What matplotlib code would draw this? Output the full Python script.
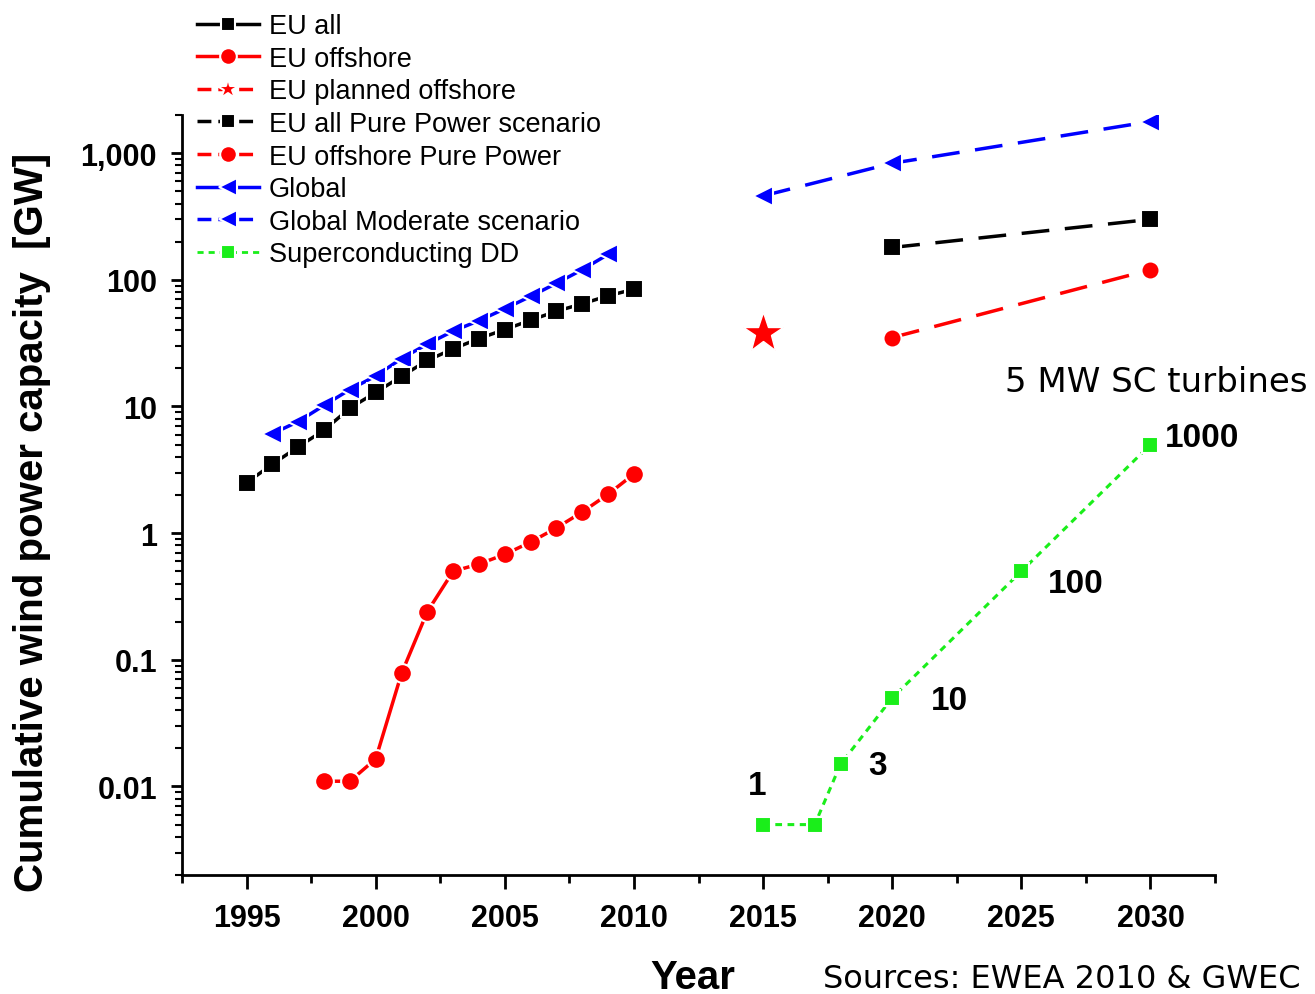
import numpy as np
import matplotlib
matplotlib.use("Agg")
import matplotlib.pyplot as plt
from matplotlib.lines import Line2D
from matplotlib.ticker import FixedLocator, NullFormatter, MultipleLocator, LogLocator

plt.rcParams['font.family'] = ['Liberation Sans', 'DejaVu Sans']

# EU cumulative capacity, GW (EWEA)
eu_years = np.arange(1995, 2011)
eu_all = [2.5, 3.5, 4.8, 6.5, 9.7, 12.9, 17.3, 23.1, 28.5, 34.4, 40.5, 48.0, 56.5, 64.7, 74.8, 84.3]

offshore_years = np.arange(1998, 2011)
eu_offshore = [0.011, 0.011, 0.0165, 0.078, 0.24, 0.50, 0.57, 0.68, 0.85, 1.10, 1.47, 2.03, 2.93]

planned_year = [2015]
planned_offshore = [38]

pure_years = [2020, 2030]
eu_all_pure = [180, 300]
eu_offshore_pure = [35, 120]

# Global cumulative capacity, GW (GWEC)
global_years = np.arange(1996, 2010)
global_cap = [6.1, 7.6, 10.2, 13.6, 17.4, 23.9, 31.1, 39.4, 47.6, 59.1, 74.1, 93.9, 120.3, 158.9]

moderate_years = [2015, 2020, 2030]
global_moderate = [460, 832, 1777]

# superconducting direct drive roll-out, number of 5 MW turbines
sc_years = [2015, 2017, 2018, 2020, 2025, 2030]
sc_turbines = [1, 1, 3, 10, 100, 1000]
sc_gw = np.array(sc_turbines) * 5 / 1000.0

ytick_vals = [0.01, 0.1, 1, 10, 100, 1000]
ytick_labels = ['0.01', '0.1', '1', '10', '100', '1,000']
xtick_vals = [1995, 2000, 2005, 2010, 2015, 2020, 2025, 2030]

green = '#1aee1a'

fig = plt.figure(figsize=(13.15, 9.95), dpi=100)
ax = fig.add_axes([0.1384, 0.1196, 0.7856, 0.7638])

gap = dict(markeredgecolor='white', markeredgewidth=1.5)
dash_long = (0, (8, 4.5))
dash_short = (0, (2.2, 1.8))

ax.plot(pure_years, eu_all_pure, color='black', lw=2.5, ls=dash_long,
        marker='s', ms=12.5, markerfacecolor='black', **gap)
ax.plot(pure_years, eu_offshore_pure, color='red', lw=2.5, ls=dash_long,
        marker='o', ms=13, markerfacecolor='red', **gap)
ax.plot(moderate_years, global_moderate, color='blue', lw=2.5, ls=dash_long,
        marker='<', ms=14, markerfacecolor='blue', **gap)
ax.plot(global_years, global_cap, color='blue', lw=2.5,
        marker='<', ms=14, markerfacecolor='blue', **gap)
ax.plot(eu_years, eu_all, color='black', lw=2.5,
        marker='s', ms=13, markerfacecolor='black', **gap)
ax.plot(offshore_years, eu_offshore, color='red', lw=2.5,
        marker='o', ms=13.5, markerfacecolor='red', **gap)
ax.plot(planned_year, planned_offshore, color='red', ls='none',
        marker='*', ms=30, markerfacecolor='red', markeredgecolor='white', markeredgewidth=1)
ax.plot(sc_years, sc_gw, color=green, lw=2.2, ls=dash_short,
        marker='s', ms=11, markerfacecolor=green, **gap)

# turbine count next to the SC points
offsets = {2015: (-4, 28, 'center'), 2018: (20, -1, 'left'), 2020: (28, -2, 'left'),
           2025: (19, -9, 'left'), 2030: (10, 5, 'left')}
for yr, n, g in zip(sc_years, sc_turbines, sc_gw):
    if yr in offsets:
        dx, dy, ha = offsets[yr]
        ax.annotate(f"{n}", (yr, g), xytext=(dx, dy), textcoords='offset points',
                    ha=ha, va='center', fontsize=24, fontweight='bold')

ax.set_yscale('log')
ax.set_ylim(0.002, 2000)
ax.set_xlim(1992.5, 2032.5)

ax.yaxis.set_major_locator(FixedLocator(ytick_vals))
ax.set_yticklabels(ytick_labels)
ax.yaxis.set_minor_locator(LogLocator(base=10, subs=np.arange(2, 10)))
ax.yaxis.set_minor_formatter(NullFormatter())
ax.set_xticks(xtick_vals)
ax.xaxis.set_minor_locator(MultipleLocator(2.5))

ax.tick_params(axis='both', which='major', direction='out', width=2, labelsize=22, color='black')
ax.tick_params(axis='x', which='major', length=10, pad=10)
ax.tick_params(axis='x', which='minor', length=6, width=2)
ax.tick_params(axis='y', which='major', length=8, pad=10)
ax.tick_params(axis='y', which='minor', length=5, width=1.5)
for lbl in ax.get_xticklabels() + ax.get_yticklabels():
    lbl.set_fontweight('bold')

for spine in ['right', 'top']:
    ax.spines[spine].set_visible(False)
for spine in ['left', 'bottom']:
    ax.spines[spine].set_linewidth(2)

# legend entries drawn as proxies so the star stays small
leg_dash = (0, (4, 2))
handles = [
    Line2D([], [], color='black', lw=2.5, marker='s', ms=10, markerfacecolor='black', **gap),
    Line2D([], [], color='red', lw=2.5, marker='o', ms=12, markerfacecolor='red', **gap),
    Line2D([], [], color='red', lw=2.5, ls=leg_dash, marker='*', ms=16, markerfacecolor='red', **gap),
    Line2D([], [], color='black', lw=2.5, ls=leg_dash, marker='s', ms=10, markerfacecolor='black', **gap),
    Line2D([], [], color='red', lw=2.5, ls=leg_dash, marker='o', ms=12, markerfacecolor='red', **gap),
    Line2D([], [], color='blue', lw=2.5, marker='<', ms=13, markerfacecolor='blue', **gap),
    Line2D([], [], color='blue', lw=2.5, ls=leg_dash, marker='<', ms=13, markerfacecolor='blue', **gap),
    Line2D([], [], color=green, lw=2, ls=dash_short, marker='s', ms=10, markerfacecolor=green, **gap),
]
labels = ['EU all', 'EU offshore', 'EU planned offshore', 'EU all Pure Power scenario',
          'EU offshore Pure Power', 'Global', 'Global Moderate scenario', 'Superconducting DD']
fig.legend(handles, labels, loc='upper left', bbox_to_anchor=(197 / 1315, 1 - 14 / 995),
           frameon=False, fontsize=19.5, handlelength=2.3, handletextpad=0.35,
           labelspacing=0.245, borderpad=0, borderaxespad=0)

fig.text(32 / 1315, 1 - 522 / 995, 'Cumulative wind power capacity  [GW]', rotation=90,
         ha='center', va='center', fontsize=29, fontweight='bold')
fig.text(693 / 1315, 1 - 978 / 995, 'Year', ha='center', va='center', fontsize=29, fontweight='bold')
fig.text(823 / 1315, 1 - 980 / 995, 'Sources: EWEA 2010 & GWEC', ha='left', va='center',
         fontsize=23, family='DejaVu Sans')
fig.text(1005 / 1315, 1 - 383 / 995, '5 MW SC turbines', ha='left', va='center',
         fontsize=24.5, family='DejaVu Sans')

fig.savefig('out.png', dpi=100, facecolor='white')
